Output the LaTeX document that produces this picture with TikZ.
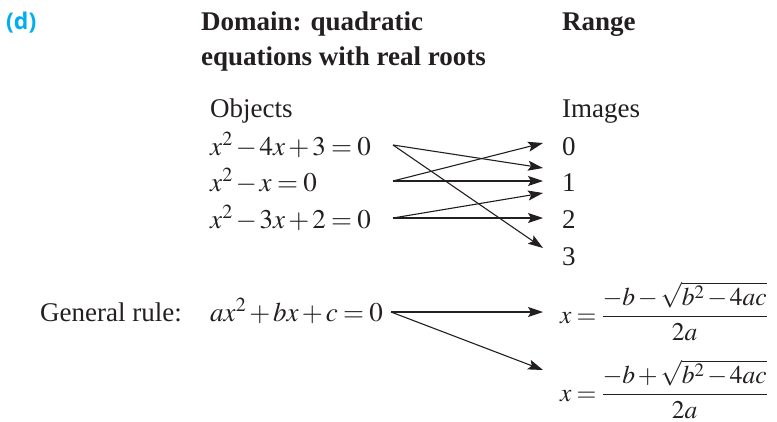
\documentclass[tikz,border=0pt]{standalone}
\usepackage{mathptmx}
\usepackage[no-math]{fontspec}
\setmainfont{Liberation Serif}
\newfontfamily\labelfont{Open Sans}
\usetikzlibrary{arrows.meta,calc}
\definecolor{ink}{RGB}{35,31,32}
\definecolor{cyanlabel}{RGB}{0,174,239}
\newcommand{\tightmath}{\medmuskip=2mu plus 1mu minus 1mu\relax\thickmuskip=3.5mu plus 1mu\relax}
\begin{document}
\begin{tikzpicture}[x=1pt,y=-1pt,
  font=\fontsize{27}{32}\selectfont,
  txt/.style={inner sep=0pt, anchor=base west, text=ink, execute at begin node=\tightmath},
  arr/.style={draw=ink, line width=1.1pt, -{Stealth[length=15pt,width=10pt,inset=3pt]}}]
\useasboundingbox (0,0) rectangle (777,421);
% headings
\node[inner sep=0pt, anchor=base west, text=cyanlabel, font=\fontsize{23}{27}\selectfont\labelfont\bfseries] (lab) at (6,29) {(d)};
\node[txt, font=\fontsize{27}{32}\selectfont\bfseries] (dom1) at (201,30) {Domain: quadratic};
\node[txt, font=\fontsize{27}{32}\selectfont\bfseries] (dom2) at (201,65) {equations with real roots};
\node[txt, font=\fontsize{27}{32}\selectfont\bfseries] (rng) at (562,30) {Range};
\node[txt] (obj) at (210,117) {Objects};
\node[txt] (img) at (562,117) {Images};
% objects
\node[txt] (e1) at (210,155) {$x^2-4x+3=0$};
\node[txt] (e2) at (210,191) {$x^2-x=0$};
\node[txt] (e3) at (210,228) {$x^2-3x+2=0$};
% images
\node[txt] (d0) at (562,155) {0};
\node[txt] (d1) at (562,191) {1};
\node[txt] (d2) at (562,228) {2};
\node[txt] (d3) at (562,265) {3};
% start and end points of the connectors
\coordinate (s1) at (393,145);
\coordinate (s2) at (393,181);
\coordinate (s3) at (393,218);
\coordinate (t0) at (543,143);
\coordinate (t1a) at (543,168);
\coordinate (t1b) at (543,181);
\coordinate (t1c) at (543,193);
\coordinate (t2) at (543,218);
\coordinate (t3) at (543,248);
\draw[arr] (s1) -- (t1a);
\draw[arr] (s1) -- (t3);
\draw[arr] (s2) -- (t0);
\draw[arr] (s2) -- (t1b);
\draw[arr] (s3) -- (t1c);
\draw[arr] (s3) -- (t2);
% general rule
\node[txt] (gr) at (40,321) {General rule:};
\node[txt] (ge) at (210,321) {$ax^2+bx+c=0$};
\node[txt, font=\fontsize{25.5}{30}\selectfont] (f1) at (560,323) {$x=\displaystyle\frac{-b-\sqrt{b^2-4ac}}{2a}$};
\node[txt, font=\fontsize{25.5}{30}\selectfont] (f2) at (560,401) {$x=\displaystyle\frac{-b+\sqrt{b^2-4ac}}{2a}$};
\coordinate (gs) at (391,312);
\coordinate (g1) at (543,312);
\coordinate (g2) at (543,370);
\draw[arr] (gs) -- (g1);
\draw[arr] (gs) -- (g2);
\end{tikzpicture}
\end{document}
